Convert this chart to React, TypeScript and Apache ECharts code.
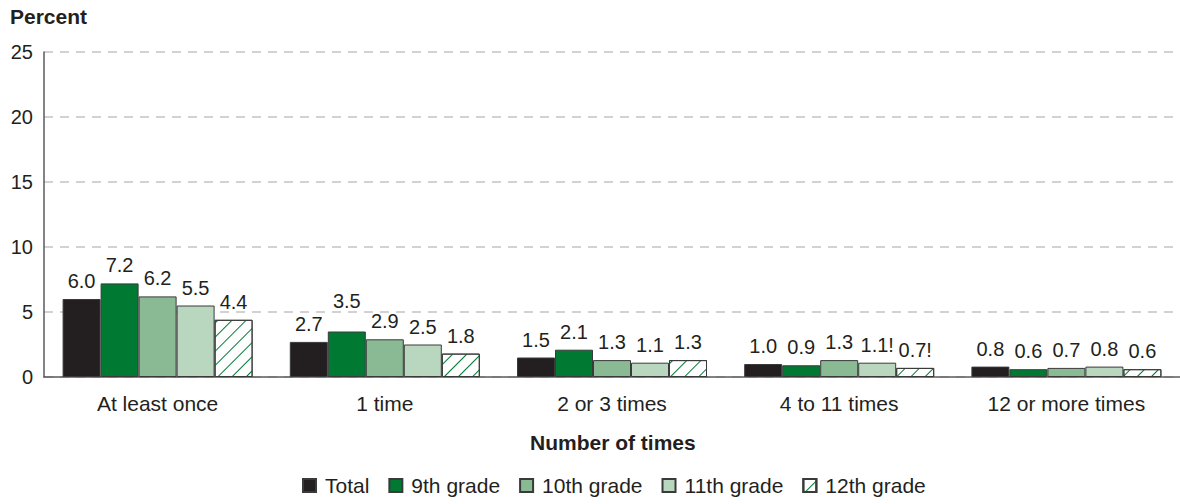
import React, { useEffect, useRef } from "react";
import * as echarts from "echarts";

const categories = ["At least once", "1 time", "2 or 3 times", "4 to 11 times", "12 or more times"];
const seriesNames = ["Total", "9th grade", "10th grade", "11th grade", "12th grade"];
const totalValues = [6.0, 2.7, 1.5, 1.0, 0.8];
const grade9Values = [7.2, 3.5, 2.1, 0.9, 0.6];
const grade10Values = [6.2, 2.9, 1.3, 1.3, 0.7];
const grade11Values = [5.5, 2.5, 1.1, 1.1, 0.8];
const grade12Values = [4.4, 1.8, 1.3, 0.7, 0.6];
// "!" = interpret data with caution
const grade11Flags = [false, false, false, true, false];
const grade12Flags = [false, false, false, true, false];
const yTicks = [0, 5, 10, 15, 20, 25];

const FONT = "'Liberation Sans', Arial, Helvetica, sans-serif";

export default function App() {
  const ref = useRef<HTMLDivElement>(null);
  useEffect(() => {
    document.body.style.margin = "0";
    const chart = echarts.init(ref.current!, null, { renderer: "svg" });
    const border = { borderColor: "#3a3a3a", borderWidth: 1 };
    const mkLabel = (flags?: boolean[]) => ({
      show: true,
      position: "top" as const,
      distance: 8,
      fontSize: 20,
      fontFamily: FONT,
      color: "#231f20",
      formatter: (p: any) => p.value.toFixed(1) + (flags && flags[p.dataIndex] ? "!" : ""),
    });
    const values = [totalValues, grade9Values, grade10Values, grade11Values, grade12Values];
    const colors = ["#231f20", "#007a33", "#8aba94", "#b9d7bf", "#ffffff"];
    const flagsList = [undefined, undefined, undefined, grade11Flags, grade12Flags];
    const series = values.map((vals, i) => ({
      name: seriesNames[i],
      type: "bar",
      barWidth: 38,
      barGap: "0%",
      data: vals.map((v, j) =>
        i === 1 && j === 1 ? { value: v, label: { offset: [0, -13] } } : v
      ),
      itemStyle:
        i === 4
          ? {
              color: "#ffffff",
              ...border,
              decal: {
                symbol: "rect",
                symbolSize: 1,
                color: "#007a33",
                backgroundColor: "#ffffff",
                dashArrayX: [1, 0],
                dashArrayY: [1, 9],
                rotation: -Math.PI / 4,
              },
            }
          : { color: colors[i], ...border },
      label: mkLabel(flagsList[i]),
    }));
    chart.setOption({
      animation: false,
      textStyle: { fontFamily: FONT },
      grid: { left: 44, right: 0, top: 52, bottom: 127, containLabel: false },
      xAxis: {
        type: "category",
        data: categories,
        axisLine: { show: true, lineStyle: { color: "#5a5a5a", width: 1.5 } },
        axisTick: { show: false },
        axisLabel: { fontSize: 21, color: "#231f20", margin: 16, fontFamily: FONT },
      },
      yAxis: {
        type: "value",
        min: yTicks[0],
        max: yTicks[yTicks.length - 1],
        interval: 5,
        axisLine: { show: true, lineStyle: { color: "#5a5a5a", width: 1.5 } },
        axisTick: { show: false },
        axisLabel: { fontSize: 20, color: "#231f20", margin: 11, fontFamily: FONT },
        splitLine: { show: true, lineStyle: { color: "#c4c4c4", width: 1.5, type: [9, 7] } },
      },
      legend: {
        data: seriesNames,
        left: 297,
        bottom: 3,
        icon: "rect",
        itemWidth: 13,
        itemHeight: 13,
        itemGap: 19,
        textStyle: { fontSize: 21, color: "#231f20", fontFamily: FONT, padding: [0, 0, 0, 4] },
      },
      graphic: [
        {
          type: "text",
          left: 10,
          top: 6,
          style: { text: "Percent", font: `bold 21px ${FONT}`, fill: "#231f20" },
        },
        {
          type: "text",
          left: 530,
          top: 432,
          style: { text: "Number of times", font: `bold 21px ${FONT}`, fill: "#231f20" },
        },
      ],
      series,
    });
    return () => chart.dispose();
  }, []);
  return <div ref={ref} style={{ width: 1180, height: 504 }} />;
}
